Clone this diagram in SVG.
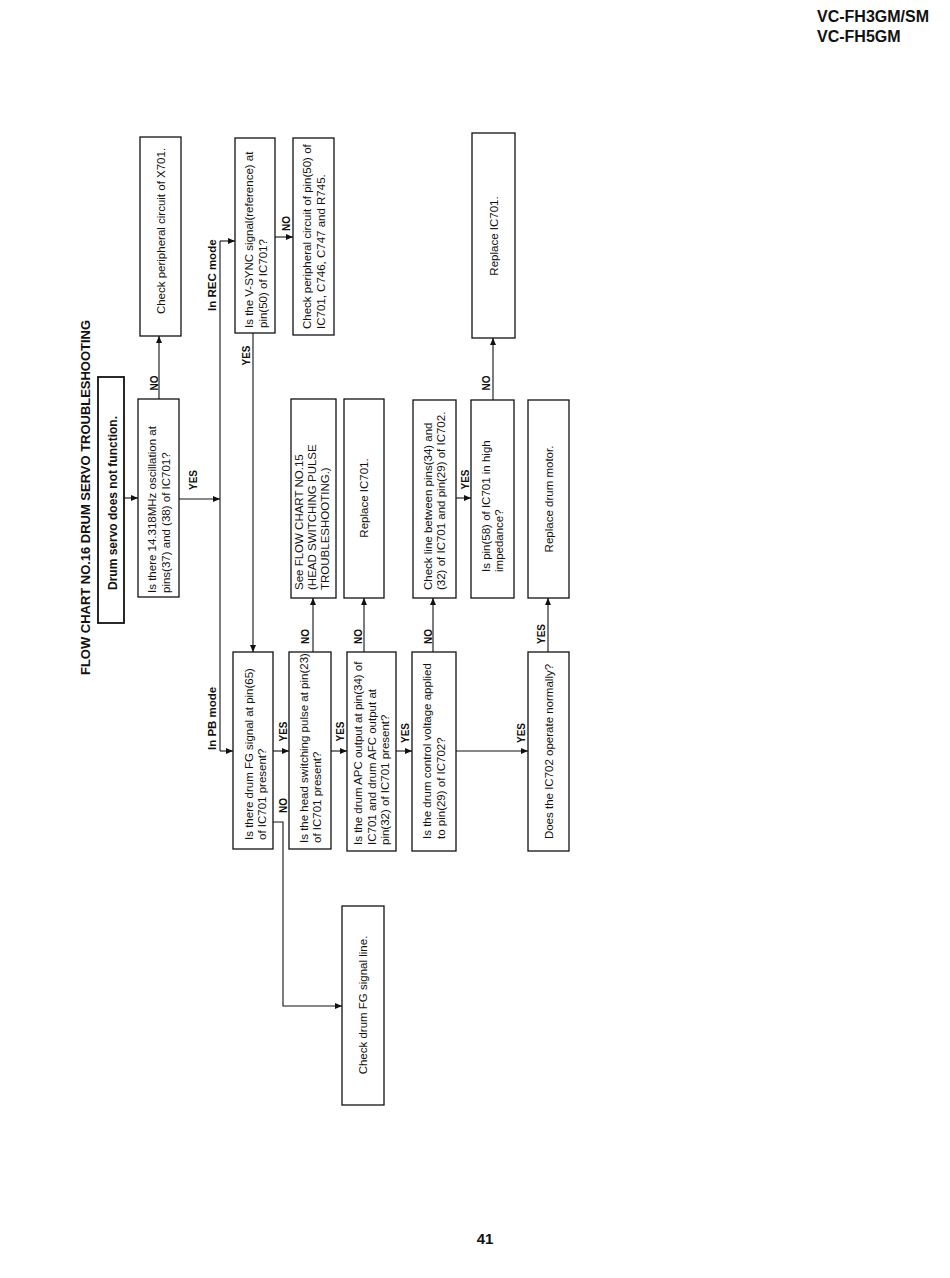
<svg xmlns="http://www.w3.org/2000/svg" width="950" height="1278" viewBox="0 0 950 1278">
<style>
  .bx { fill: #fff; stroke: #111; stroke-width: 1.3; }
  .bx2 { fill: #fff; stroke: #111; stroke-width: 1.8; }
  .ln { fill: none; stroke: #111; stroke-width: 1.1; }
  .t { font-family: "Liberation Sans", Arial, sans-serif; font-size: 11.5px; fill: #111; }
  .tm { font-family: "Liberation Sans", Arial, sans-serif; font-size: 11.5px; fill: #111; text-anchor: middle; }
  .tb { font-family: "Liberation Sans", Arial, sans-serif; font-size: 12px; font-weight: bold; fill: #111; text-anchor: middle; }
  .lb { font-family: "Liberation Sans", Arial, sans-serif; font-size: 10px; font-weight: bold; fill: #111; text-anchor: middle; }
  .md { font-family: "Liberation Sans", Arial, sans-serif; font-size: 11.5px; font-weight: bold; fill: #111; }
  .hd { font-family: "Liberation Sans", Arial, sans-serif; font-size: 16px; font-weight: bold; fill: #111; }
</style>
<defs>
  <marker id="ah" markerUnits="userSpaceOnUse" markerWidth="7" markerHeight="6" refX="7" refY="3" orient="auto">
    <path d="M0,0 L7,3 L0,6 z" fill="#111"/>
  </marker>
</defs>
<rect width="950" height="1278" fill="#fff"/>

<!-- header -->
<text class="hd" x="817" y="22">VC-FH3GM/SM</text>
<text class="hd" x="817" y="42">VC-FH5GM</text>
<text class="hd" x="485" y="1244" text-anchor="middle" style="font-size:15px">41</text>

<!-- title -->
<text transform="translate(90,675) rotate(-90)" style="font-family:'Liberation Sans',Arial,sans-serif;font-size:13px;font-weight:bold;fill:#111" textLength="355" lengthAdjust="spacingAndGlyphs">FLOW CHART NO.16 DRUM SERVO TROUBLESHOOTING</text>

<!-- connectors -->
<g id="connectors">
  <line class="ln" x1="124" y1="498" x2="138" y2="498" marker-end="url(#ah)"/>
  <line class="ln" x1="159" y1="399" x2="159" y2="336" marker-end="url(#ah)"/>
  <line class="ln" x1="179" y1="499" x2="220" y2="499" marker-end="url(#ah)"/>
  <line class="ln" x1="220" y1="241" x2="220" y2="751"/>
  <line class="ln" x1="220" y1="241" x2="235" y2="241" marker-end="url(#ah)"/>
  <line class="ln" x1="220" y1="751" x2="233" y2="751" marker-end="url(#ah)"/>
  <line class="ln" x1="275" y1="237" x2="293" y2="237" marker-end="url(#ah)"/>
  <line class="ln" x1="253" y1="333" x2="253" y2="652" marker-end="url(#ah)"/>
  <line class="ln" x1="273" y1="751" x2="289" y2="751" marker-end="url(#ah)"/>
  <polyline class="ln" points="273,822 283,822 283,1006 342,1006" marker-end="url(#ah)"/>
  <line class="ln" x1="331" y1="751" x2="347" y2="751" marker-end="url(#ah)"/>
  <line class="ln" x1="313" y1="652" x2="313" y2="598" marker-end="url(#ah)"/>
  <line class="ln" x1="396" y1="751" x2="412" y2="751" marker-end="url(#ah)"/>
  <line class="ln" x1="364" y1="652" x2="364" y2="598" marker-end="url(#ah)"/>
  <line class="ln" x1="456" y1="751" x2="528" y2="751" marker-end="url(#ah)"/>
  <line class="ln" x1="433" y1="652" x2="433" y2="598" marker-end="url(#ah)"/>
  <line class="ln" x1="548" y1="652" x2="548" y2="598" marker-end="url(#ah)"/>
  <line class="ln" x1="456" y1="498" x2="471" y2="498" marker-end="url(#ah)"/>
  <line class="ln" x1="493" y1="400" x2="493" y2="338" marker-end="url(#ah)"/>

  <text class="lb" transform="translate(158,383) rotate(-90)">NO</text>
  <text class="lb" transform="translate(196.5,480) rotate(-90)">YES</text>
  <text class="lb" transform="translate(250,355.5) rotate(-90)">YES</text>
  <text class="lb" transform="translate(289.5,223.5) rotate(-90)">NO</text>
  <text class="md" transform="translate(216,311) rotate(-90)">In REC mode</text>
  <text class="md" transform="translate(216,750) rotate(-90)">In PB mode</text>
  <text class="lb" transform="translate(286.5,731.5) rotate(-90)">YES</text>
  <text class="lb" transform="translate(287,805.5) rotate(-90)">NO</text>
  <text class="lb" transform="translate(343.5,731.5) rotate(-90)">YES</text>
  <text class="lb" transform="translate(309,636.5) rotate(-90)">NO</text>
  <text class="lb" transform="translate(361.5,636.5) rotate(-90)">NO</text>
  <text class="lb" transform="translate(408.5,733) rotate(-90)">YES</text>
  <text class="lb" transform="translate(431.5,636.5) rotate(-90)">NO</text>
  <text class="lb" transform="translate(524.5,733) rotate(-90)">YES</text>
  <text class="lb" transform="translate(544.5,634) rotate(-90)">YES</text>
  <text class="lb" transform="translate(468.5,479.5) rotate(-90)">YES</text>
  <text class="lb" transform="translate(489.5,383) rotate(-90)">NO</text>
</g>

<g id="n-start">
  <rect class="bx2" x="98" y="377" width="26" height="246"/>
  <text class="tb" transform="translate(116.5,503) rotate(-90)">Drum servo does not function.</text>
</g>

<g id="n-osc">
  <rect class="bx" x="138" y="399" width="41" height="198"/>
  <text class="t" transform="translate(156,593) rotate(-90)">Is there 14.318MHz oscillation at</text>
  <text class="t" transform="translate(169.5,593) rotate(-90)">pins(37) and (38) of IC701?</text>
</g>

<g id="n-x701">
  <rect class="bx" x="140" y="137" width="41" height="199"/>
  <text class="tm" transform="translate(164.5,231) rotate(-90)">Check peripheral circuit of X701.</text>
</g>

<g id="n-vsync">
  <rect class="bx" x="235" y="138" width="40" height="195"/>
  <text class="t" transform="translate(253,328) rotate(-90)">Is the V-SYNC signal(reference) at</text>
  <text class="t" transform="translate(266.5,328) rotate(-90)">pin(50) of IC701?</text>
</g>

<g id="n-pin50">
  <rect class="bx" x="293" y="138" width="41" height="197"/>
  <text class="t" transform="translate(311,329) rotate(-90)">Check peripheral circuit of pin(50) of</text>
  <text class="t" transform="translate(324.5,329) rotate(-90)">IC701, C746, C747 and R745.</text>
</g>

<g id="n-replace-ic701-a">
  <rect class="bx" x="472" y="133" width="43" height="205"/>
  <text class="tm" transform="translate(497.5,236) rotate(-90)">Replace IC701.</text>
</g>

<g id="n-see-fc15">
  <rect class="bx" x="291" y="399" width="45" height="199"/>
  <text class="t" transform="translate(303,590) rotate(-90)">See FLOW CHART NO.15</text>
  <text class="t" transform="translate(316,590) rotate(-90)">(HEAD SWITCHING PULSE</text>
  <text class="t" transform="translate(329,590) rotate(-90)">TROUBLESHOOTING.)</text>
</g>

<g id="n-replace-ic701-b">
  <rect class="bx" x="344" y="399" width="40" height="199"/>
  <text class="tm" transform="translate(368,498) rotate(-90)">Replace IC701.</text>
</g>

<g id="n-checkline">
  <rect class="bx" x="413" y="400" width="43" height="198"/>
  <text class="t" transform="translate(432,590) rotate(-90)">Check line between pins(34) and</text>
  <text class="t" transform="translate(445,590) rotate(-90)">(32) of IC701 and pin(29) of IC702.</text>
</g>

<g id="n-pin58">
  <rect class="bx" x="471" y="400" width="43" height="198"/>
  <text class="t" transform="translate(490,572) rotate(-90)">Is pin(58) of IC701 in high</text>
  <text class="t" transform="translate(502.5,572) rotate(-90)">impedance?</text>
</g>

<g id="n-motor">
  <rect class="bx" x="528" y="400" width="41" height="198"/>
  <text class="tm" transform="translate(552.5,499) rotate(-90)">Replace drum motor.</text>
</g>

<g id="n-fg">
  <rect class="bx" x="233" y="652" width="40" height="197"/>
  <text class="t" transform="translate(252.5,840) rotate(-90)">Is there drum FG signal at pin(65)</text>
  <text class="t" transform="translate(266,840) rotate(-90)">of IC701 present?</text>
</g>

<g id="n-head">
  <rect class="bx" x="289" y="652" width="42" height="197"/>
  <text class="t" transform="translate(307.5,843) rotate(-90)">Is the head switching pulse at pin(23)</text>
  <text class="t" transform="translate(321,843) rotate(-90)">of IC701 present?</text>
</g>

<g id="n-apc">
  <rect class="bx" x="347" y="652" width="49" height="199"/>
  <text class="t" transform="translate(362,845) rotate(-90)">Is the drum APC output at pin(34) of</text>
  <text class="t" transform="translate(375.5,845) rotate(-90)">IC701 and drum AFC output at</text>
  <text class="t" transform="translate(389,845) rotate(-90)">pin(32) of IC701 present?</text>
</g>

<g id="n-control">
  <rect class="bx" x="412" y="652" width="44" height="199"/>
  <text class="t" transform="translate(431,839) rotate(-90)">Is the drum control voltage applied</text>
  <text class="t" transform="translate(444.5,839) rotate(-90)">to pin(29) of IC702?</text>
</g>

<g id="n-ic702">
  <rect class="bx" x="528" y="652" width="41" height="199"/>
  <text class="tm" transform="translate(552.5,751.5) rotate(-90)">Does the IC702 operate normally?</text>
</g>

<g id="n-fgline">
  <rect class="bx" x="342" y="906" width="42" height="199"/>
  <text class="tm" transform="translate(367,1005) rotate(-90)">Check drum FG signal line.</text>
</g>
</svg>
